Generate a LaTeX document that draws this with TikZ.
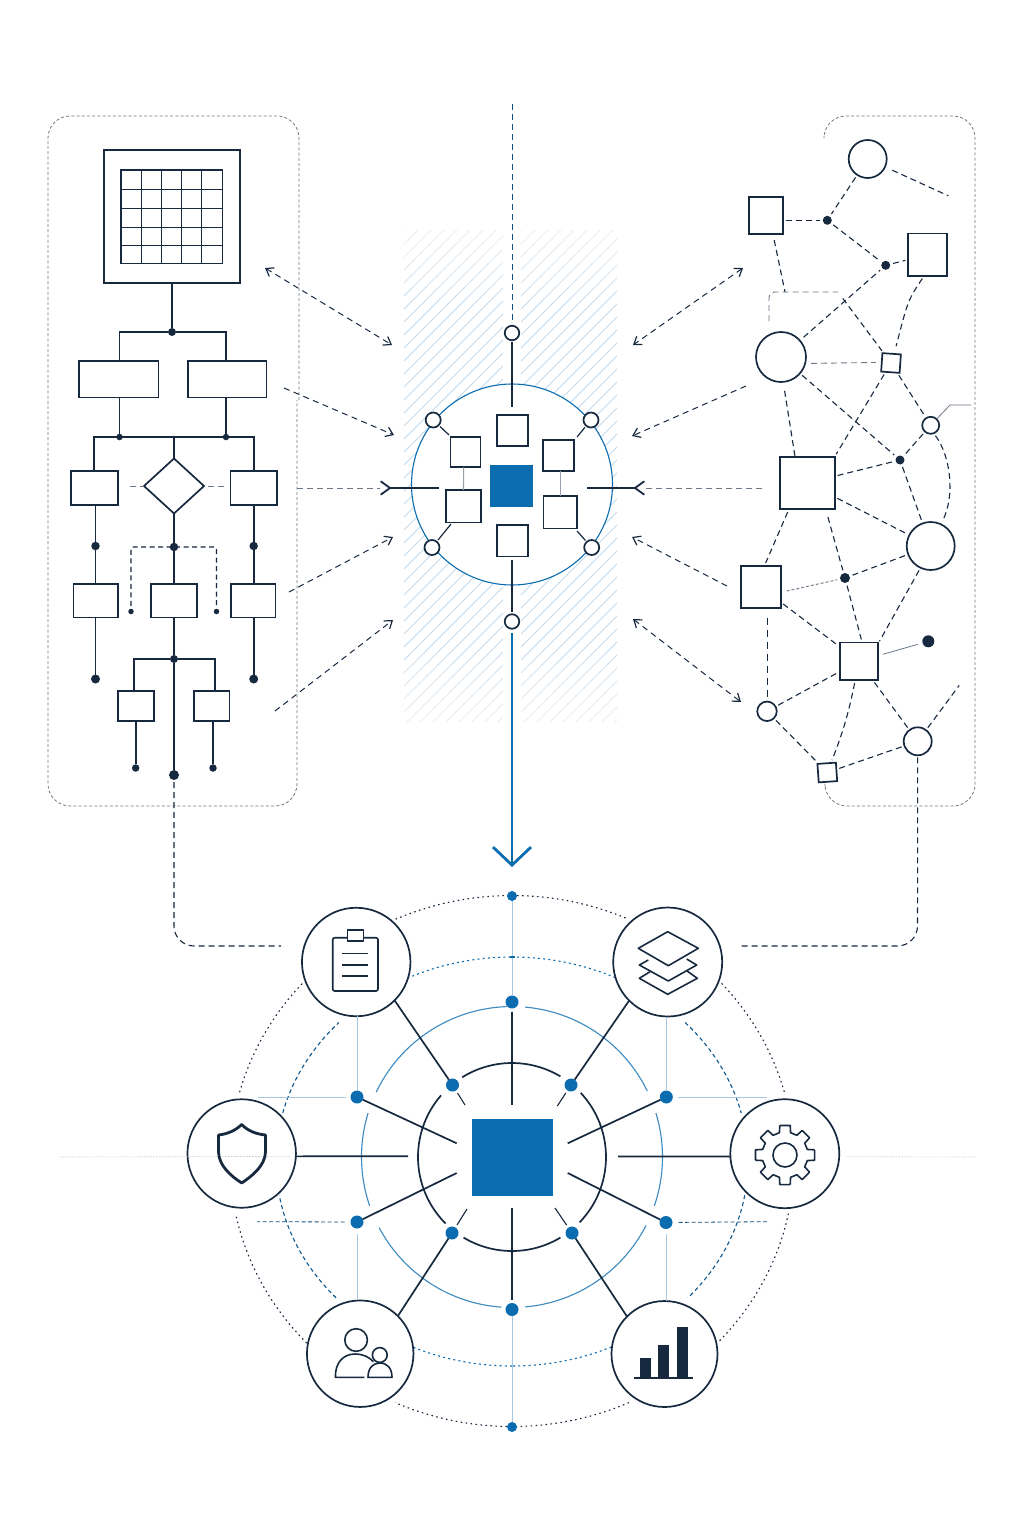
\documentclass[tikz,border=0pt]{standalone}
\usepackage{xcolor}
\usetikzlibrary{arrows.meta,calc,shapes.geometric}
\definecolor{ink}{HTML}{17293F}
\definecolor{edgegrey}{HTML}{6B7888}
\definecolor{panelgrey}{HTML}{6F7985}
\definecolor{azure}{HTML}{0B6DB0}
\definecolor{azurelite}{HTML}{A8C8E2}
\definecolor{hatchblue}{HTML}{C2D9EC}
\begin{document}
\begin{tikzpicture}[
  x=1pt,y=-1pt,
  rect/.style={draw=ink,line width=1.7pt,fill=white,inner sep=0pt,outer sep=0pt},
  ring/.style={circle,draw=ink,line width=1.7pt,fill=white,inner sep=0pt,outer sep=0pt},
  dot/.style={circle,fill=ink,inner sep=0pt,outer sep=0pt,minimum size=#1},
  dot/.default=8pt,
  bluedot/.style={circle,fill=azure,inner sep=0pt,outer sep=0pt,minimum size=#1},
  bluedot/.default=13pt,
  wire/.style={draw=ink,line width=1.6pt},
  panel/.style={draw=panelgrey,line width=.8pt,dash pattern=on 3pt off 2.2pt,rounded corners=22pt},
  edge/.style={draw=ink,line width=1.1pt,dash pattern=on 6pt off 4pt,shorten <=3pt,shorten >=3pt},
  edgelite/.style={edge,draw=edgegrey,line width=.9pt},
  link/.style={draw=ink,line width=1pt,dash pattern=on 6pt off 4.5pt,
    {Straight Barb[length=7pt,width=10pt,line width=1.2pt]}-{Straight Barb[length=7pt,width=10pt,line width=1.2pt]}},
  linkto/.style={draw=ink,line width=1pt,dash pattern=on 6pt off 4.5pt,
    -{Straight Barb[length=7pt,width=10pt,line width=1.2pt]}},
  spoke/.style={draw=ink,line width=1.7pt},
  beam/.style={draw=azurelite,line width=1pt},
  dotring/.style={draw=ink,line width=1.1pt,dash pattern=on 1.6pt off 3.4pt},
  bluering/.style={draw=azure,line width=1.1pt,dash pattern=on 2pt off 3.2pt},
  blueringlong/.style={draw=azure!70!ink,line width=1.1pt,dash pattern=on 4pt off 3pt},
  icon/.style={draw=ink,line width=1.6pt,line join=round}
]
\useasboundingbox (0,0) rectangle (1024,1536);
\fill[white] (0,0) rectangle (1024,1536);

% 1. Side frames.
\draw[panel] (299,400)--(299,116)--(48,116)--(48,806)--(297,806)--(297,400);
\draw[panel] (824,136)--(824,116)--(975,116)--(975,806)--(825,806)--(825,788);

% 2. Hatched band behind the hub.
\begin{scope}
\clip (404,230) rectangle (617,722);
\foreach \s in {-100,-87,...,620} {\draw[hatchblue,line width=.8pt] (\s,722)--(\s+492,230);}
\foreach \k in {1,...,10} {\fill[white,opacity=.13] (404,230) rectangle (617,230+\k*7);}
\foreach \k in {1,...,10} {\fill[white,opacity=.13] (404,722) rectangle (617,722-\k*7);}
\fill[white] (503,230) rectangle (521,722);
\end{scope}

% 3. Left tree.
\node[rect,line width=1.9pt,minimum width=136.5pt,minimum height=132.5pt] (frame) at (171.8,216.4) {};
\node[rect,minimum width=101.5pt,minimum height=93.5pt] (table) at (171.8,216.8) {};
\foreach \x in {141.7,161.7,181.7,201.7} {\draw[ink,line width=1.1pt] (\x,170)--(\x,263.6);}
\foreach \y in {189.3,208.7,227.7,245.7} {\draw[ink,line width=1.1pt] (121,\y)--(222.6,\y);}
\node[dot] (split) at (172,332) {};
\node[rect,minimum width=79.5pt,minimum height=36.5pt] (boxa) at (118.8,379.3) {};
\node[rect,minimum width=78.5pt,minimum height=36.5pt] (boxb) at (227.2,379.3) {};
\node[dot=6.5pt] (busa) at (119.5,437) {};
\node[dot=6.5pt] (busb) at (226,437) {};
\coordinate (busmid) at (174,437);
\node[rect,minimum width=47pt,minimum height=34pt] (boxl) at (94.5,488) {};
\node[rect,minimum width=46.5pt,minimum height=34pt] (boxr) at (253.7,488) {};
\node[rect,diamond,minimum width=60pt,minimum height=55pt] (gate) at (174,486) {};
\node[dot=8.5pt] (midl) at (95.5,546) {};
\node[dot=8.5pt] (midc) at (174,547) {};
\node[dot=8.5pt] (midr) at (253.7,546) {};
\node[rect,minimum width=44.5pt,minimum height=33.5pt] (lowl) at (95.7,600.7) {};
\node[rect,minimum width=46pt,minimum height=33.5pt] (lowc) at (174,600.7) {};
\node[rect,minimum width=44.5pt,minimum height=33.5pt] (lowr) at (253.2,600.7) {};
\node[dot=9pt] (endl) at (95.5,679) {};
\node[dot=9pt] (endr) at (253.7,679) {};
\node[dot=8pt] (fork) at (174,659) {};
\node[dot=5.5pt] (tickl) at (131,611.5) {};
\node[dot=5.5pt] (tickr) at (216.5,611.5) {};
\node[rect,minimum width=35.7pt,minimum height=30pt] (leafl) at (136.1,706) {};
\node[rect,minimum width=35.5pt,minimum height=30pt] (leafr) at (211.7,706) {};
\node[dot=7.5pt] (tipl) at (135.7,768) {};
\node[dot=7.5pt] (tipr) at (213,768) {};
\node[dot=10pt] (tipc) at (174,775) {};
\coordinate (gatel) at (130,486);
\coordinate (gater) at (224,486);
\draw[wire] (frame.south -| split)--(split);
\draw[wire] (boxa.north -| busa)|-(split);
\draw[wire] (boxb.north -| busb)|-(split);
\draw[wire] (busa)--(busa |- boxa.south);
\draw[wire] (busb)--(busb |- boxb.south);
\draw[wire] (boxl.north -| 94,437) -- (94,437) -- (254,437) -- (boxr.north -| 254,437);
\draw[wire] (busmid)--(gate.north);
\draw[wire] (gate.south)--(midc)--(lowc.north);
\draw[wire] (midl |- boxl.south)--(midl)--(midl |- lowl.north);
\draw[wire] (midr |- boxr.south)--(midr)--(midr |- lowr.north);
\draw[wire] (endl |- lowl.south)--(endl);
\draw[wire] (endr |- lowr.south)--(endr);
\draw[wire] (lowc.south)--(fork)--(tipc);
\draw[wire] (134,691)--(134,659)--(fork)--(215,659)--(215,691);
\draw[wire] (tipl |- leafl.south)--(tipl);
\draw[wire] (tipr |- leafr.south)--(tipr);
\draw[edgelite,shorten <=0pt,shorten >=0pt] (gatel)--(gate.west);
\draw[edgelite,shorten <=0pt,shorten >=0pt] (gater)--(gate.east);
\draw[edge,rounded corners=2pt,dash pattern=on 5pt off 3.5pt] (tickl)--(131,547)--(216.5,547)--(tickr);

% 4. Hub with six ports.
\node[circle,draw=azure,line width=1.1pt,fill=white,inner sep=0pt,minimum size=201pt] (halo) at (512,484.5) {};
\node[rect,draw=azure,fill=azure,line width=0pt,minimum width=41.7pt,minimum height=41.4pt] (core) at (511.8,486) {};
\node[rect,minimum width=30.7pt,minimum height=31pt] (cellt) at (512.6,430.5) {};
\node[rect,minimum width=30pt,minimum height=30.6pt] (cellul) at (465.4,452) {};
\node[rect,minimum width=34.4pt,minimum height=32.3pt] (cellll) at (463.5,506.2) {};
\node[rect,minimum width=30.4pt,minimum height=30.7pt] (cellur) at (558.5,455.4) {};
\node[rect,minimum width=33.7pt,minimum height=32.3pt] (celllr) at (560.2,512.2) {};
\node[rect,minimum width=30.7pt,minimum height=31.3pt] (cellb) at (512.6,540.7) {};
\node[ring,minimum size=14.5pt] (portt) at (512,333) {};
\node[ring,minimum size=14.5pt] (portb) at (512,621.5) {};
\node[ring,minimum size=15pt] (portul) at (433.2,420) {};
\node[ring,minimum size=15pt] (portur) at (591,420) {};
\node[ring,minimum size=15pt] (portll) at (432,547.5) {};
\node[ring,minimum size=15pt] (portlr) at (591.7,547.5) {};
\coordinate (skytop) at (512,104);
\coordinate (hook) at (512,867);
\draw[draw=azure!60!ink,line width=1pt,dash pattern=on 6pt off 4pt,shorten >=4pt] (skytop)--(portt);
\draw[spoke,shorten <=2pt] (portt)--(512,407);
\draw[spoke,shorten <=2pt] (portb)--(512,560);
\draw[draw=ink,line width=1.2pt,shorten <=2pt] (portul)--(449,435);
\draw[draw=ink,line width=1.2pt,shorten <=2pt] (portur)--(577,437);
\draw[draw=ink,line width=1.2pt,shorten <=2pt] (portll)--(451,524);
\draw[draw=ink,line width=1.2pt,shorten <=2pt] (portlr)--(577,531);
\draw[draw=ink!45,line width=1.1pt] (cellul.south -| 463.7,0)--(cellll.north);
\draw[draw=edgegrey!70,line width=1pt] (cellur.south -| 560,0)--(celllr.north -| 560,0);
\draw[draw=azure,line width=2pt,shorten <=4pt,-{Straight Barb[length=18pt,width=38pt,line width=2.8pt]}] (portb)--(hook);

% 5. Dashed links both sides of the hub.
\coordinate (la) at (265,268); \coordinate (lb) at (392,345);
\coordinate (ma) at (284,388); \coordinate (mb) at (394,435);
\coordinate (na) at (289,592); \coordinate (nb) at (393,537);
\coordinate (oa) at (275,711); \coordinate (ob) at (393,620);
\coordinate (ra) at (743,268); \coordinate (rb) at (633,345);
\coordinate (sa) at (746,386); \coordinate (sb) at (632,436);
\coordinate (ta) at (727,586); \coordinate (tb) at (632,537);
\coordinate (ua) at (633,619); \coordinate (ub) at (741,702);
\draw[link] (la)--(lb);
\draw[linkto] (ma)--(mb);
\draw[linkto] (na)--(nb);
\draw[linkto] (oa)--(ob);
\draw[link] (ra)--(rb);
\draw[linkto] (sa)--(sb);
\draw[linkto] (ta)--(tb);
\draw[link] (ua)--(ub);
\coordinate (inl) at (297,488);
\coordinate (tipin) at (390,488);
\coordinate (endin) at (439,488);
\coordinate (inr) at (762,488);
\coordinate (tipout) at (635,488);
\coordinate (endout) at (587,488);
\draw[draw=edgegrey,line width=.9pt,dash pattern=on 6pt off 4pt] (inl)--(380,488);
\draw[draw=edgegrey,line width=.9pt,dash pattern=on 6pt off 4pt] (inr)--(646,488);
\draw[draw=ink,line width=1.2pt] (endin)--(tipin);
\draw[draw=ink,line width=1.2pt] (endout)--(tipout);
\draw[draw=ink,line width=1.8pt,line cap=round] (381,481.5)--(tipin)--(381,494.5);
\draw[draw=ink,line width=1.8pt,line cap=round] (644,481.5)--(tipout)--(644,494.5);

% 6. Right mesh.
\node[ring,minimum size=38pt] (ca) at (867.7,159) {};
\node[rect,minimum width=33.7pt,minimum height=37pt] (sa1) at (765.8,215.8) {};
\node[dot=9pt] (da) at (827.3,220.3) {};
\node[dot=9pt] (db) at (885.7,265.3) {};
\node[rect,minimum width=39pt,minimum height=42.7pt] (sb1) at (927.8,254.7) {};
\node[ring,minimum size=50pt] (cb) at (781,357) {};
\node[rect,rotate=-4,minimum size=18.5pt] (sc1) at (891,363) {};
\node[ring,minimum size=17pt] (cc) at (930.7,425.3) {};
\node[dot=9pt] (dc) at (900,460) {};
\node[rect,minimum width=54.7pt,minimum height=52.6pt] (sd1) at (807.3,483) {};
\node[ring,minimum size=48pt] (cd) at (930.7,546) {};
\node[rect,minimum width=40pt,minimum height=42.6pt] (se1) at (760.7,587) {};
\node[dot=10pt] (dd) at (845,578) {};
\node[rect,minimum width=38.3pt,minimum height=37.7pt] (sf1) at (858.8,661.2) {};
\node[dot=12pt] (de) at (928.3,641.3) {};
\node[ring,minimum size=19.5pt] (ce) at (767,711.3) {};
\node[ring,minimum size=28pt] (cf) at (917.7,741.3) {};
\node[rect,rotate=4,minimum size=18.5pt] (sg1) at (827.3,772.5) {};
\coordinate (freea) at (951,197);
\coordinate (freeb) at (961,683);
\coordinate (freec) at (971,405);
\coordinate (bendx) at (950,405);
\coordinate (shelfl) at (769,321);
\coordinate (shelfr) at (838,292);
\draw[edge] (ca)--(da);
\draw[edge] (sa1.east |- da)--(da);
\draw[edge] (da)--(db);
\draw[edge] (db)--(sb1);
\draw[edge,shorten <=8pt] (ca)--(freea);
\draw[edge,shorten <=6pt,shorten >=0pt] (sa1.south -| 773,0)--(785,292);
\draw[edgelite,rounded corners=6pt,shorten <=0pt,shorten >=0pt] (shelfl)--(769,292)--(shelfr);
\draw[edge,shorten <=8pt] (shelfr)--(sc1);
\draw[edge,shorten <=5pt] (cb)--(db);
\draw[edgelite,shorten <=6pt,shorten >=6pt] (cb.-15)--(sc1.west);
\draw[edge,shorten <=3pt,shorten >=8pt] (sb1.-100) .. controls (908,300) .. (sc1.75);
\draw[edge] (cb)--(dc);
\draw[edge,shorten <=9pt,shorten >=0pt] (cb.-85)--(sd1.115);
\draw[edge] (sc1)--(sd1.north east);
\draw[edge] (sc1)--(cc);
\draw[edge] (cc)--(dc);
\draw[edge] (cc.-70) .. controls (950,455) and (956,495) .. (cd.65);
\draw[draw=edgegrey,line width=.8pt,shorten <=1pt] (cc)--(bendx)--(freec);
\draw[edge] (sd1)--(dc);
\draw[edge] (dc)--(cd);
\draw[edge] (sd1)--(cd);
\draw[edge] (sd1.-125)--(se1.80);
\draw[edge,shorten <=8pt] (sd1.-55)--(dd);
\draw[edge] (dd)--(sf1.80);
\draw[edge] (dd)--(cd);
\draw[edgelite,dash pattern=on 3pt off 2pt,shorten <=6pt] (se1.-15)--(dd);
\draw[edge,shorten >=3pt] (cd.-115)--(sf1.42);
\draw[edge] (se1)--(sf1);
\draw[edge,line width=1pt,dash pattern=on 7pt off 5pt,shorten <=10pt] (ce |- se1.south)--(ce.north);
\draw[edge] (ce)--(sf1);
\draw[edge] (ce)--(sg1);
\draw[edge] (sf1) to[bend left=5] (sg1);
\draw[edge] (sf1)--(cf);
\draw[edge] (cf)--(freeb);
\draw[edge] (cf)--(sg1);
\draw[draw=edgegrey,line width=.8pt,shorten <=5pt,shorten >=5pt] (sf1)--(de);

% 7. Lower rings.
\coordinate (hub) at (512,1157);
\coordinate (outer) at (512,1161);
\coordinate (middle) at (512,1161.5);
\foreach \a/\b in {205.5/268,275/334,-17/19,161/197,94/152,27/85}
  {\draw[draw=azure!80,line width=1.1pt] ([shift={(\a:150.5)}]hub) arc [start angle=\a,end angle=\b,radius=150.5];}
\foreach \a/\b in {238/301,135/221,59/121,-43/44}
  {\draw[draw=ink,line width=1.7pt] ([shift={(\a:94)}]hub) arc [start angle=\a,end angle=\b,radius=94];}
\foreach \a/\b in {245.6/270,270/294.4,195/222,318/345,136.7/168.6,11.4/43.3,90/114.5,65.5/90}
  {\draw[dotring] ([shift={(\a:282 and 265.5)}]outer) arc [start angle=\a,end angle=\b,x radius=282,y radius=265.5];}
\foreach \a/\b in {242.4/270,270/297.6,63.8/90,90/116.2}
  {\draw[bluering] ([shift={(\a:236 and 204.5)}]middle) arc [start angle=\a,end angle=\b,x radius=236,y radius=204.5];}
\foreach \a/\b in {193.7/222.8,317.2/346.3,138.2/170.5,9.5/41.8}
  {\draw[blueringlong] ([shift={(\a:236 and 204.5)}]middle) arc [start angle=\a,end angle=\b,x radius=236,y radius=204.5];}

% 8. Lower hub and satellites.
\node[rect,draw=azure,fill=azure,line width=0pt,minimum width=80pt,minimum height=75.5pt] (square) at (512,1157.5) {};
\node[bluedot=10pt] (nodetop) at (512,896) {};
\node[bluedot] (nodeup) at (512,1002) {};
\node[bluedot] (nodeul) at (452.5,1085) {};
\node[bluedot] (nodeur) at (571,1085) {};
\node[bluedot=13pt] (nodeal) at (357,1097) {};
\node[bluedot=13pt] (nodear) at (666.3,1097) {};
\node[bluedot=13pt] (nodebl) at (357,1222) {};
\node[bluedot=13pt] (nodebr) at (666,1222.5) {};
\node[bluedot] (nodell) at (452,1233) {};
\node[bluedot] (nodelr) at (572,1233) {};
\node[bluedot] (nodedn) at (512,1309.5) {};
\node[bluedot=10pt] (nodeend) at (512,1427) {};
\node[ring,minimum size=108.5pt] (clip) at (356.2,962) {};
\node[ring,minimum size=109pt] (stack) at (667.7,962) {};
\node[ring,minimum size=108.5pt] (guard) at (241.7,1153.5) {};
\node[ring,minimum size=109pt] (cog) at (784.8,1153.7) {};
\node[ring,minimum size=106.5pt] (team) at (360.2,1353.7) {};
\node[ring,minimum size=106pt] (chart) at (664.5,1354) {};

\draw[spoke] (clip.-45)--(nodeul);
\draw[spoke] (stack.-135)--(nodeur);
\draw[spoke] (team.45)--(nodell);
\draw[spoke] (chart.135)--(nodelr);
\draw[spoke] (nodeal)--(456.7,1143.3);
\draw[spoke] (nodebl)--(456.7,1173);
\draw[spoke] (nodear)--(567.7,1143.3);
\draw[spoke] (nodebr)--(567.7,1173);
\draw[spoke] (guard.-3)--(408,1156.3);
\draw[spoke] (cog.183)--(618,1156.5);
\draw[spoke,shorten <=3pt] (nodeup)--(512,1105);
\draw[spoke,shorten >=3pt] (512,1208)--(nodedn);
\draw[draw=ink,line width=1.1pt,shorten <=3pt] (nodeul)--(465,1105);
\draw[draw=ink,line width=1.1pt,shorten <=3pt] (nodeur)--(557.3,1106);
\draw[draw=ink,line width=1.1pt,shorten <=3pt] (nodell)--(467,1209);
\draw[draw=ink,line width=1.1pt,shorten <=3pt] (nodelr)--(555,1208);
\draw[beam] (nodetop)--(nodeup);
\draw[beam] (nodedn)--(nodeend);
\draw[draw=azure,line width=1.6pt] (510,957)--(515,957);
\draw[beam] (clip.south -| nodeal)--(nodeal);
\draw[beam] (stack.south -| nodear)--(nodear);
\draw[beam,shorten <=5pt] (nodebl)--(nodebl |- team.north);
\draw[beam,shorten <=5pt] (nodebr)--(nodebr |- chart.north);
\coordinate (stubal) at (258,1097);
\coordinate (stubar) at (767,1097);
\coordinate (stubbl) at (257,1221.7);
\coordinate (stubbr) at (767.5,1221.7);
\draw[beam,shorten <=5pt] (nodeal)--(stubal);
\draw[beam,shorten <=5pt] (nodear)--(stubar);
\draw[draw=azure!55!ink,line width=.8pt,dash pattern=on 4pt off 2.5pt,shorten <=6pt] (nodebl)--(stubbl);
\draw[draw=azure!55!ink,line width=.8pt,dash pattern=on 4pt off 2.5pt,shorten <=6pt] (nodebr)--(stubbr);
\coordinate (farl) at (60,1157);
\coordinate (farr) at (975,1157);
\draw[draw=ink!25,line width=.6pt,dash pattern=on 1.5pt off 1.5pt,shorten >=6pt] (farl)--(guard.-3);
\draw[draw=ink!25,line width=.6pt,dash pattern=on 1.5pt off 1.5pt,shorten >=6pt] (farr)--(cog.183 -| cog.east);

% 9. Long dashed returns.
\coordinate (retl) at (281,946);
\coordinate (retr) at (738,946);
\draw[edge,rounded corners=20pt,shorten <=2pt,shorten >=0pt] (tipc)--(174,946)--(retl);
\draw[edge,rounded corners=20pt,shorten <=2pt,shorten >=0pt] (cf)--(917.5,946)--(retr);

% 10. Icons.
\draw[icon,rounded corners=2pt] (332.7,937.7) rectangle (378,991);
\draw[icon,fill=white] (347.3,930) rectangle (363.3,941);
\foreach \y in {953.3,964.7,976} {\draw[icon] (342,\y)--(368,\y);}
\draw[icon] (686.7,959)--(696.7,965)--(668.3,981)--(639.3,965)--(648.3,960);
\draw[icon] (686.7,970.7)--(697.3,978.3)--(667.7,994.3)--(639.3,978.3)--(650,971.7);
\draw[icon] (667.7,931.7)--(698.3,948.3)--(668.3,965.7)--(638.3,948.3)--cycle;
\draw[icon,line width=2.8pt] (241.7,1124.5) .. controls (235,1131) and (227,1134) .. (218.5,1135)
  -- (218.5,1152) .. controls (219,1166) and (231,1176) .. (241.7,1183)
  .. controls (252,1176) and (265,1166) .. (265.5,1152) -- (265.5,1135)
  .. controls (256,1134) and (248,1131) .. (241.7,1124.5) -- cycle;
\coordinate (wheel) at (785,1155);
\draw[icon] \foreach \a in {0,45,...,315} {($(wheel)+(\a-10:30)$) -- ($(wheel)+(\a+10:30)$) -- ($(wheel)+(\a+14:23)$) -- ($(wheel)+(\a+31:23)$) -- ($(wheel)+(\a+35:30)$)};
\draw[icon] (wheel) circle (12);
\draw[icon] (356.1,1340) circle (11.3);
\draw[icon] (364.3,1377.3)--(335.4,1377.3) .. controls (335,1363) and (343,1354) .. (355,1354)
  .. controls (363,1354) and (369,1357) .. (373.5,1361.7);
\draw[icon] (379.8,1355) circle (7.4);
\draw[icon] (368,1377.3) .. controls (368,1368) and (373,1363) .. (379.8,1363)
  .. controls (387,1363) and (392,1368) .. (392,1377.3) -- cycle;
\fill[ink] (639.5,1357.7) rectangle (650.7,1377.7);
\fill[ink] (658,1345) rectangle (669,1377.7);
\fill[ink] (676.5,1326.7) rectangle (687.6,1377.7);
\draw[ink,line width=2pt] (634.3,1378)--(692.8,1378);

\end{tikzpicture}
\end{document}
